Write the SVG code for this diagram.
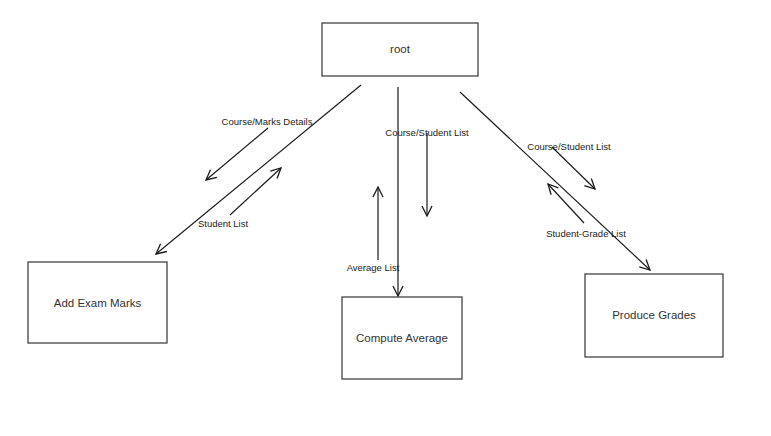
<svg xmlns="http://www.w3.org/2000/svg" width="771" height="436" viewBox="0 0 771 436">
  <defs>
    <marker id="open" viewBox="0 0 12 12" refX="11" refY="6" markerWidth="12" markerHeight="12" markerUnits="userSpaceOnUse" orient="auto">
      <path d="M1,1 L11,6 L1,11" fill="none" stroke="#1a1a1a" stroke-width="1.3"/>
    </marker>
    <style>
      .box { fill: #ffffff; stroke: #333333; stroke-width: 1.2; }
      .node-label { font-family: "Liberation Sans", Arial, sans-serif; font-size: 11.5px; fill: #333333; text-anchor: middle; dominant-baseline: central; }
      .flow { stroke: #1a1a1a; stroke-width: 1.2; fill: none; marker-end: url(#open); }
      .edge-label { font-family: "Liberation Sans", Arial, sans-serif; font-size: 9.5px; fill: #222222; text-anchor: middle; dominant-baseline: central; }
    </style>
  </defs>
  <rect width="771" height="436" fill="#ffffff"/>

  <g id="root">
    <rect class="box" x="322" y="23" width="156" height="53"/>
    <text class="node-label" x="400" y="49">root</text>
  </g>
  <g id="add-exam-marks">
    <rect class="box" x="28" y="262" width="139" height="81"/>
    <text class="node-label" x="97.5" y="302.5">Add Exam Marks</text>
  </g>
  <g id="compute-average">
    <rect class="box" x="342" y="297" width="120" height="82"/>
    <text class="node-label" x="402" y="338">Compute Average</text>
  </g>
  <g id="produce-grades">
    <rect class="box" x="585" y="274" width="138" height="83"/>
    <text class="node-label" x="654" y="315">Produce Grades</text>
  </g>

  <g id="connectors">
    <!-- root to child links -->
    <line class="flow" x1="361" y1="85" x2="156" y2="254"/>
    <line class="flow" x1="398" y1="87" x2="398" y2="296"/>
    <line class="flow" x1="460" y1="92" x2="650" y2="270"/>

    <!-- data flows -->
    <line class="flow" x1="268" y1="128" x2="206" y2="180"/>
    <line class="flow" x1="230" y1="215" x2="281" y2="168"/>
    <line class="flow" x1="427" y1="133" x2="427" y2="216"/>
    <line class="flow" x1="378" y1="260" x2="378" y2="187"/>
    <line class="flow" x1="552" y1="147" x2="595" y2="189"/>
    <line class="flow" x1="584" y1="223" x2="548" y2="184"/>

    <text class="edge-label" x="267" y="121">Course/Marks Details</text>
    <text class="edge-label" x="223" y="223">Student List</text>
    <text class="edge-label" x="427" y="132">Course/Student List</text>
    <text class="edge-label" x="373" y="267">Average List</text>
    <text class="edge-label" x="569" y="146">Course/Student List</text>
    <text class="edge-label" x="586" y="233">Student-Grade List</text>
  </g>
</svg>
